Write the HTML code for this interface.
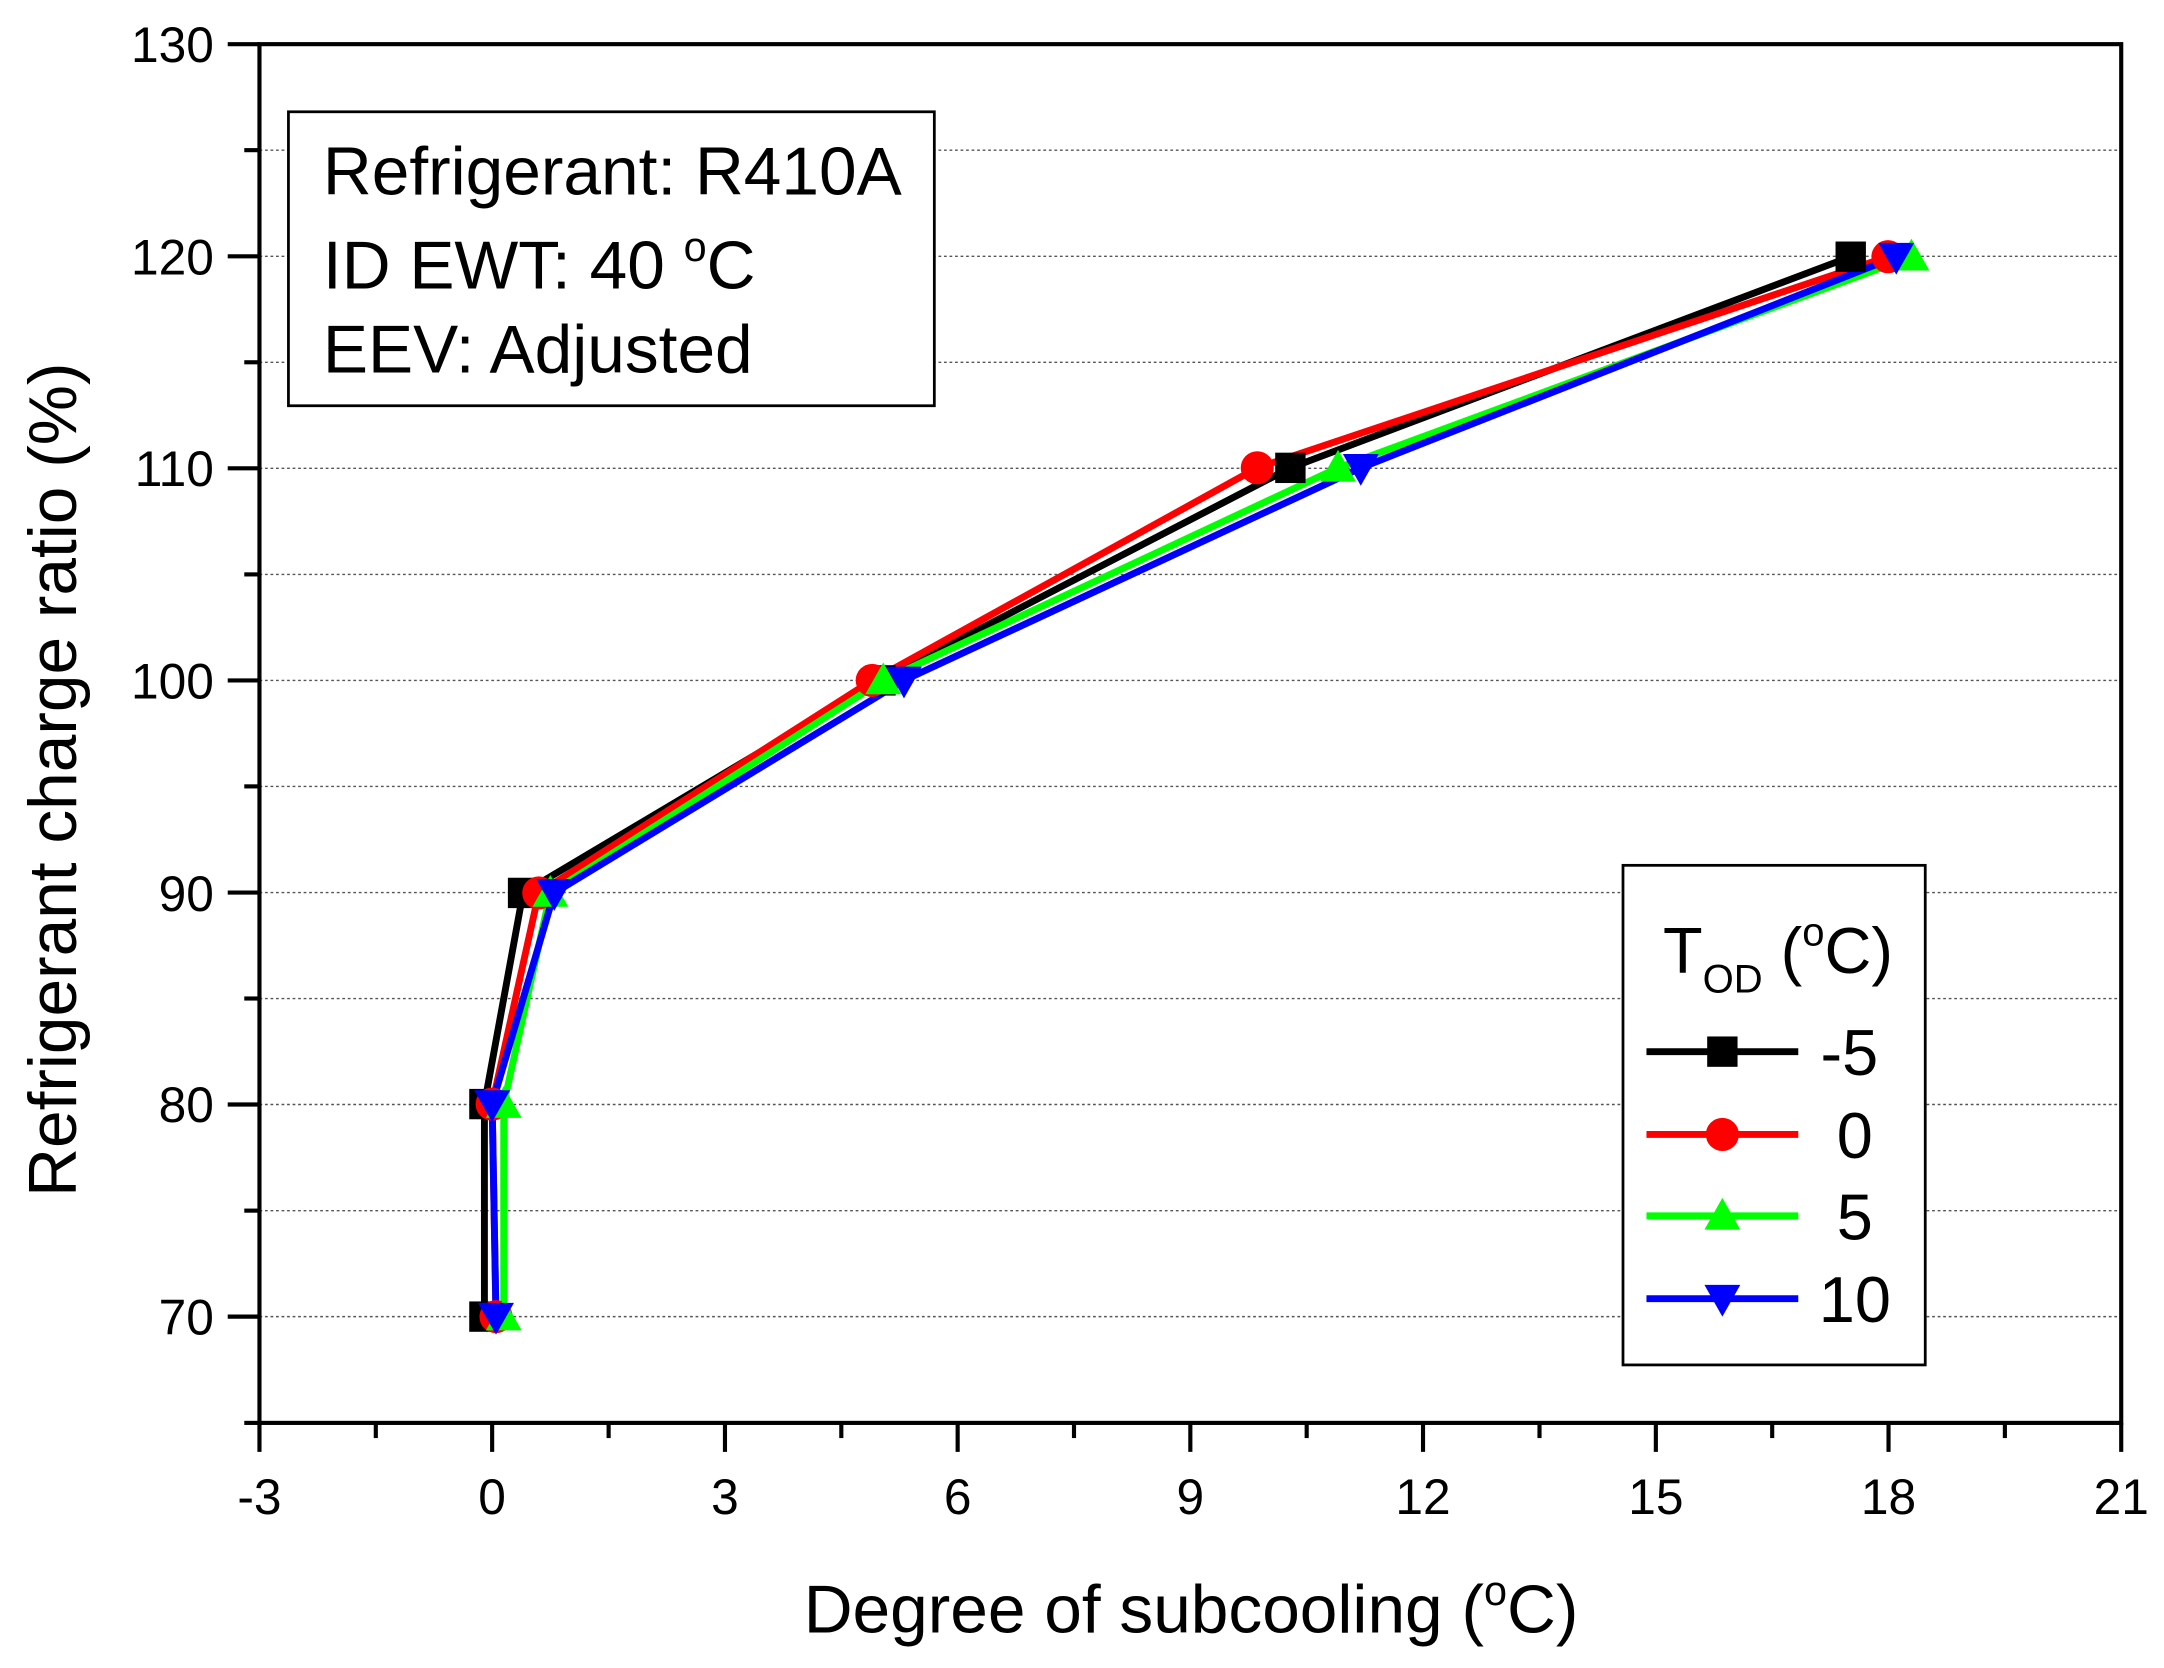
<!DOCTYPE html>
<html><head><meta charset="utf-8"><style>html,body{margin:0;padding:0;background:#fff}svg{display:block}</style></head><body>
<svg width="2164" height="1668" viewBox="0 0 1568 1208.6" preserveAspectRatio="none" xmlns="http://www.w3.org/2000/svg" font-family="Liberation Sans, Arial, sans-serif">
<rect width="1568" height="1209" fill="#fff"/>
<g stroke="#555" stroke-width="1" stroke-dasharray="2,2">
<line x1="188" x2="1537" y1="108.8" y2="108.8"/><line x1="188" x2="1537" y1="185.7" y2="185.7"/>
<line x1="188" x2="1537" y1="262.5" y2="262.5"/><line x1="188" x2="1537" y1="339.3" y2="339.3"/>
<line x1="188" x2="1537" y1="416.2" y2="416.2"/><line x1="188" x2="1537" y1="493" y2="493"/>
<line x1="188" x2="1537" y1="569.8" y2="569.8"/><line x1="188" x2="1537" y1="646.7" y2="646.7"/>
<line x1="188" x2="1537" y1="723.5" y2="723.5"/><line x1="188" x2="1537" y1="800.3" y2="800.3"/>
<line x1="188" x2="1537" y1="877.2" y2="877.2"/><line x1="188" x2="1537" y1="954" y2="954"/>
</g>
<rect x="188" y="32" width="1349" height="999" fill="none" stroke="#000" stroke-width="3"/>
<g stroke="#000" stroke-width="3">
<line x1="165" x2="188" y1="32" y2="32"/><line x1="165" x2="188" y1="185.7" y2="185.7"/><line x1="165" x2="188" y1="339.3" y2="339.3"/><line x1="165" x2="188" y1="493" y2="493"/><line x1="165" x2="188" y1="646.7" y2="646.7"/><line x1="165" x2="188" y1="800.3" y2="800.3"/><line x1="165" x2="188" y1="954" y2="954"/>
<line x1="177" x2="188" y1="108.8" y2="108.8"/><line x1="177" x2="188" y1="262.5" y2="262.5"/><line x1="177" x2="188" y1="416.2" y2="416.2"/><line x1="177" x2="188" y1="569.8" y2="569.8"/><line x1="177" x2="188" y1="723.5" y2="723.5"/><line x1="177" x2="188" y1="877.2" y2="877.2"/><line x1="177" x2="188" y1="1031" y2="1031"/>
<line y1="1031" y2="1052" x1="188" x2="188"/><line y1="1031" y2="1052" x1="356.6" x2="356.6"/><line y1="1031" y2="1052" x1="525.3" x2="525.3"/><line y1="1031" y2="1052" x1="693.9" x2="693.9"/><line y1="1031" y2="1052" x1="862.5" x2="862.5"/><line y1="1031" y2="1052" x1="1031.1" x2="1031.1"/><line y1="1031" y2="1052" x1="1199.8" x2="1199.8"/><line y1="1031" y2="1052" x1="1368.4" x2="1368.4"/><line y1="1031" y2="1052" x1="1537" x2="1537"/>
<line y1="1031" y2="1042" x1="272.3" x2="272.3"/><line y1="1031" y2="1042" x1="441" x2="441"/><line y1="1031" y2="1042" x1="609.6" x2="609.6"/><line y1="1031" y2="1042" x1="778.2" x2="778.2"/><line y1="1031" y2="1042" x1="946.8" x2="946.8"/><line y1="1031" y2="1042" x1="1115.5" x2="1115.5"/><line y1="1031" y2="1042" x1="1284.1" x2="1284.1"/><line y1="1031" y2="1042" x1="1452.7" x2="1452.7"/>
</g>
<g font-size="36" text-anchor="end">
<text x="155" y="45">130</text><text x="155" y="199">120</text><text x="155" y="352">110</text><text x="155" y="506">100</text><text x="155" y="660">90</text><text x="155" y="813">80</text><text x="155" y="967">70</text>
</g>
<g font-size="36" text-anchor="middle">
<text x="188" y="1097">-3</text><text x="356.6" y="1097">0</text><text x="525.3" y="1097">3</text><text x="693.9" y="1097">6</text><text x="862.5" y="1097">9</text><text x="1031.1" y="1097">12</text><text x="1199.8" y="1097">15</text><text x="1368.4" y="1097">18</text><text x="1537" y="1097">21</text>
</g>
<text x="863" y="1183" font-size="49" text-anchor="middle">Degree of subcooling (<tspan font-size="30" dy="-20">o</tspan><tspan dy="20">C)</tspan></text>
<text transform="translate(55,565) rotate(-90)" font-size="49" text-anchor="middle">Refrigerant charge ratio (%)</text>
<rect x="209" y="81" width="468" height="213" fill="#fff" stroke="#000" stroke-width="2"/>
<g font-size="49"><text x="234" y="141">Refrigerant: R410A</text><text x="234" y="209">ID EWT: 40 <tspan font-size="30" dy="-20">o</tspan><tspan dy="20">C</tspan></text><text x="234" y="270">EEV: Adjusted</text></g>
<g fill="none" stroke-width="5">
<polyline stroke="#000" points="351,954 351,800 379,647 638,493 935,339 1341,186"/>
<polyline stroke="#f00" points="359.4,954 356.6,800 390.4,647 632,493 911,339 1368,186"/>
<polyline stroke="#0f0" points="365,954 365,800 398.8,647 640,493 969.5,339 1385,186"/>
<polyline stroke="#00f" points="359.4,954 356.6,800 401.6,647 655,493 986,339 1374,186"/>
</g>
<g fill="#000"><rect x="340" y="943" width="22" height="22"/><rect x="340" y="789" width="22" height="22"/><rect x="368" y="636" width="22" height="22"/><rect x="627" y="482" width="22" height="22"/><rect x="924" y="328" width="22" height="22"/><rect x="1330" y="175" width="22" height="22"/></g>
<g fill="#f00"><circle cx="359.4" cy="954" r="12"/><circle cx="356.6" cy="800" r="12"/><circle cx="390.4" cy="647" r="12"/><circle cx="632" cy="493" r="12"/><circle cx="911" cy="339" r="12"/><circle cx="1368" cy="186" r="12"/></g>
<g fill="#0f0"><path d="M365,941 l13,23 h-26z"/><path d="M365,787 l13,23 h-26z"/><path d="M398.8,634 l13,23 h-26z"/><path d="M640,480 l13,23 h-26z"/><path d="M969.5,326 l13,23 h-26z"/><path d="M1385,173 l13,23 h-26z"/></g>
<g fill="#00f"><path d="M359.4,967 l13,-23 h-26z"/><path d="M356.6,813 l13,-23 h-26z"/><path d="M401.6,660 l13,-23 h-26z"/><path d="M655,506 l13,-23 h-26z"/><path d="M986,352 l13,-23 h-26z"/><path d="M1374,199 l13,-23 h-26z"/></g>
<rect x="1176" y="627" width="219" height="362" fill="#fff" stroke="#000" stroke-width="2"/>
<text x="1205" y="705" font-size="47">T<tspan font-size="29" dy="14">OD</tspan><tspan dy="-14"> (</tspan><tspan font-size="29" dy="-20">o</tspan><tspan dy="20">C)</tspan></text>
<g stroke-width="5"><line x1="1193" x2="1303" y1="762" y2="762" stroke="#000"/><line x1="1193" x2="1303" y1="822" y2="822" stroke="#f00"/><line x1="1193" x2="1303" y1="881" y2="881" stroke="#0f0"/><line x1="1193" x2="1303" y1="941" y2="941" stroke="#00f"/></g>
<rect x="1237" y="751" width="22" height="22" fill="#000"/><circle cx="1248" cy="822" r="12" fill="#f00"/><path d="M1248,868 l13,23 h-26z" fill="#0f0"/><path d="M1248,954 l13,-23 h-26z" fill="#00f"/>
<g font-size="47" text-anchor="middle"><text x="1340" y="779">-5</text><text x="1344" y="839">0</text><text x="1344" y="898">5</text><text x="1344" y="958">10</text></g>
</svg>
</body></html>
